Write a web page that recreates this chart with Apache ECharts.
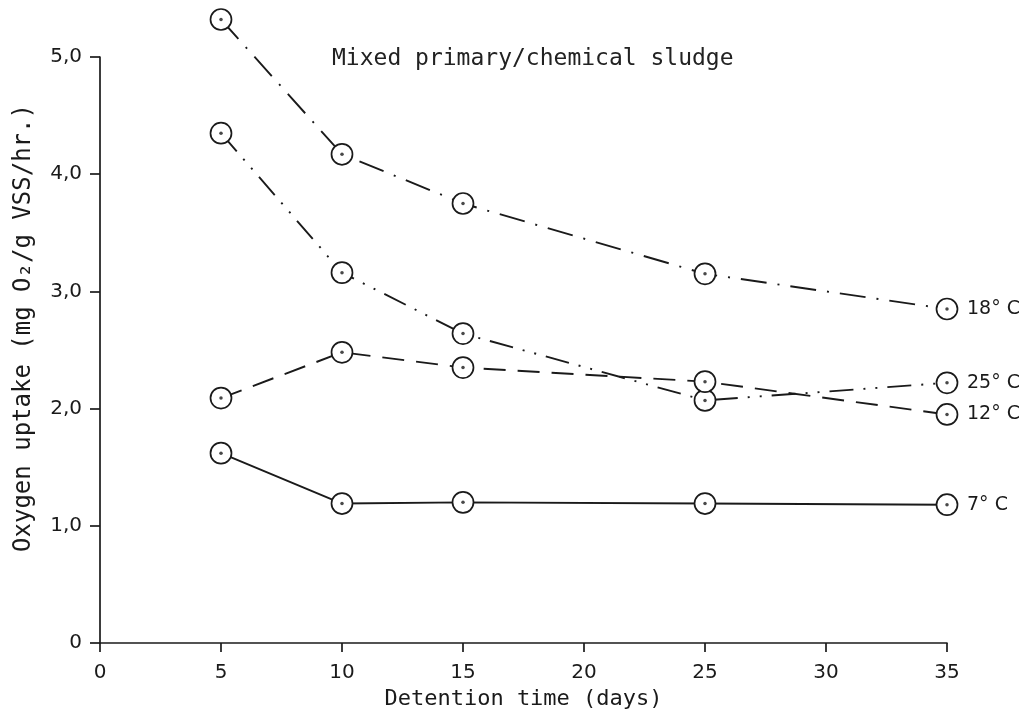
<!DOCTYPE html>
<html>
<head>
<meta charset="utf-8">
<script src="https://cdn.jsdelivr.net/npm/echarts@6/dist/echarts.min.js"></script>
<style>
  html, body { margin: 0; padding: 0; background: #fff; }
  #chart { width: 1031px; height: 710px; }
</style>
</head>
<body>
<div id="chart"></div>
<script>
// Detention time (days) and oxygen uptake (mg O2 / g VSS / hr) per temperature
const days = [5, 10, 15, 25, 35];
const uptake18 = [5.32, 4.17, 3.75, 3.15, 2.85];
const uptake25 = [4.35, 3.16, 2.64, 2.07, 2.22];
const uptake12 = [2.09, 2.48, 2.35, 2.23, 1.95];
const uptake7 = [1.62, 1.19, 1.20, 1.19, 1.18];
const seriesNames = ['18° C', '25° C', '12° C', '7° C'];
const xTicks = [0, 5, 10, 15, 20, 25, 30, 35];
const yTicks = [0, 1, 2, 3, 4, 5];

const ink = '#1a1a1a';
const font = 'DejaVu Sans Mono';
const numFont = 'DejaVu Sans';

function pairs(vals) {
  return days.map((d, i) => [d, vals[i]]);
}

// dash patterns: dash-dot, dash-dot-dot, dashed, solid
const dashes = [[26, 11, 2, 11], [24, 10, 2, 10, 2, 10], [22, 12], 'solid'];
const values = [uptake18, uptake25, uptake12, uptake7];

const lineSeries = values.map((v, i) => ({
  name: seriesNames[i],
  type: 'line',
  data: pairs(v),
  clip: false,
  symbol: 'circle',
  symbolSize: 21,
  z: 3,
  itemStyle: { color: '#fff', borderColor: ink, borderWidth: 1.7 },
  lineStyle: { color: ink, width: 1.9, type: dashes[i] },
  endLabel: {
    show: true,
    formatter: '{a}',
    distance: 20,
    color: ink,
    fontFamily: numFont,
    fontSize: 19
  },
  animation: false
}));

// centre dots inside each ring
const dotSeries = values.map((v, i) => ({
  type: 'scatter',
  data: pairs(v),
  clip: false,
  symbol: 'circle',
  symbolSize: 3.5,
  z: 4,
  itemStyle: { color: ink },
  silent: true,
  animation: false
}));

const chart = echarts.init(document.getElementById('chart'));
chart.setOption({
  backgroundColor: '#fff',
  animation: false,
  title: {
    text: 'Mixed primary/chemical sludge',
    left: 327,
    top: 43,
    textStyle: { color: '#222', fontFamily: font, fontSize: 23, fontWeight: 'normal' }
  },
  grid: { left: 100, right: 84, top: 57, bottom: 67, outerBoundsMode: 'none', containLabel: false },
  xAxis: {
    type: 'value',
    min: 0,
    max: 35,
    interval: 5,
    name: 'Detention time (days)',
    nameLocation: 'middle',
    nameGap: 41,
    nameTextStyle: { color: ink, fontFamily: font, fontSize: 22 },
    axisLine: { lineStyle: { color: ink, width: 1.7 } },
    axisTick: { show: true, length: 9, lineStyle: { color: ink, width: 1.7 } },
    axisLabel: {
      color: ink, fontFamily: numFont, fontSize: 20, margin: 20,
      formatter: v => (xTicks.includes(v) ? String(v) : '')
    },
    splitLine: { show: false }
  },
  yAxis: {
    type: 'value',
    min: 0,
    max: 5,
    interval: 1,
    name: 'Oxygen uptake (mg O\u2082/g VSS/hr.)',
    nameLocation: 'middle',
    nameGap: 64,
    nameRotate: 90,
    nameTextStyle: { color: ink, fontFamily: font, fontSize: 24, padding: [0, 0, 0, 44] },
    axisLine: { show: true, lineStyle: { color: ink, width: 1.7 } },
    axisTick: { show: true, length: 10, lineStyle: { color: ink, width: 1.7 } },
    axisLabel: {
      color: ink, fontFamily: numFont, fontSize: 20, margin: 18,
      formatter: v => (yTicks.includes(v) ? (v === 0 ? '0' : v.toFixed(1).replace('.', ',')) : '')
    },
    splitLine: { show: false }
  },
  series: lineSeries.concat(dotSeries)
});
</script>
</body>
</html>
